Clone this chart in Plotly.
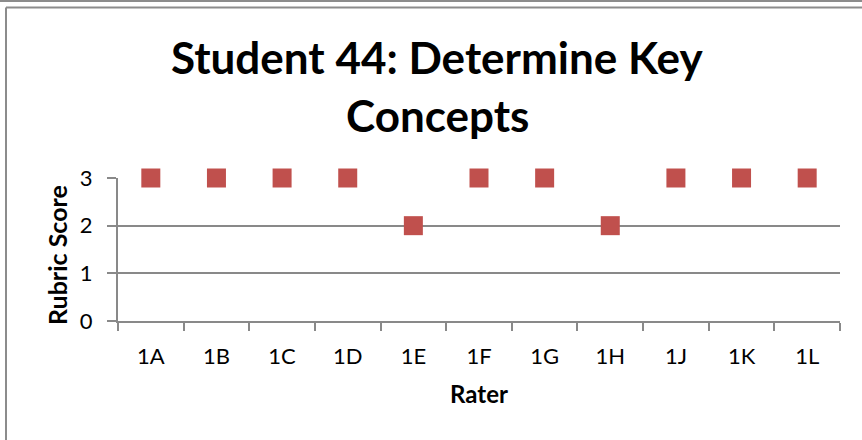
import plotly.graph_objects as go

raters = ["1A", "1B", "1C", "1D", "1E", "1F", "1G", "1H", "1J", "1K", "1L"]
scores = [3, 3, 3, 3, 2, 3, 3, 2, 3, 3, 3]
title_lines = ["Student 44: Determine Key", "Concepts"]

W, H = 862, 440
# plot area in pixels
PL, PR, PT, PB = 118, 840, 178, 321

FONT = "Lato, Calibri, Carlito, sans-serif"
GRID = "#898989"


def px_x(x):
    return (x - PL) / (PR - PL)


def px_y(y):
    return (PB - y) / (PB - PT)


fig = go.Figure()
fig.add_trace(
    go.Scatter(
        x=raters,
        y=scores,
        mode="markers",
        marker=dict(symbol="square", size=19, color="#C0504D", line=dict(width=0)),
        cliponaxis=False,
        showlegend=False,
    )
)

# chart frame lines (outer box of the embedded chart)
frame = dict(color="#8C8C8C", width=2)
fig.add_shape(type="line", xref="paper", yref="paper",
              x0=px_x(0), x1=px_x(W), y0=px_y(1), y1=px_y(1), line=frame)
fig.add_shape(type="line", xref="paper", yref="paper",
              x0=px_x(1), x1=px_x(1), y0=px_y(0), y1=px_y(2), line=frame)
fig.add_shape(type="line", xref="paper", yref="paper",
              x0=px_x(6), x1=px_x(W), y0=px_y(7.5), y1=px_y(7.5), line=frame)
fig.add_shape(type="line", xref="paper", yref="paper",
              x0=px_x(6), x1=px_x(6), y0=px_y(7.5), y1=px_y(H), line=frame)

# two-line title, one annotation per line
for text, yc in zip(title_lines, [57, 115]):
    fig.add_annotation(
        text=f"<b>{text}</b>",
        xref="paper", yref="paper",
        x=px_x(437), y=px_y(yc),
        xanchor="center", yanchor="middle",
        showarrow=False,
        font=dict(family=FONT, size=44, color="#000000"),
    )

# y axis title placed like the original (slightly below plot centre)
fig.add_annotation(
    text="<b>Rubric Score</b>",
    xref="paper", yref="paper",
    x=px_x(57), y=px_y(255),
    xanchor="center", yanchor="middle",
    textangle=-90,
    showarrow=False,
    font=dict(family=FONT, size=25, color="#000000"),
)

fig.update_layout(
    width=W,
    height=H,
    margin=dict(l=PL, r=W - PR, t=PT, b=H - PB),
    plot_bgcolor="white",
    paper_bgcolor="white",
    font=dict(family=FONT, color="#000000", size=22),
)

fig.update_xaxes(
    type="category",
    range=[-0.5, len(raters) - 0.5],
    tickson="boundaries",
    ticks="outside",
    ticklen=8,
    tickwidth=2,
    tickcolor=GRID,
    showline=True,
    linecolor=GRID,
    linewidth=2,
    showgrid=False,
    zeroline=False,
    tickfont=dict(size=22),
    ticklabelstandoff=15,
    title=dict(text="<b>Rater</b>", font=dict(size=24), standoff=18),
)

fig.update_yaxes(
    range=[0, 3],
    tickvals=[0, 1, 2, 3],
    ticks="outside",
    ticklen=9,
    tickwidth=2,
    tickcolor=GRID,
    showline=True,
    linecolor=GRID,
    linewidth=2,
    showgrid=True,
    gridcolor=GRID,
    gridwidth=2,
    zeroline=False,
    tickfont=dict(size=22),
    ticklabelstandoff=10,
)

fig.write_html(
    "out.html",
    config={"displayModeBar": False},
    post_script="document.body.style.margin='0';",
)
